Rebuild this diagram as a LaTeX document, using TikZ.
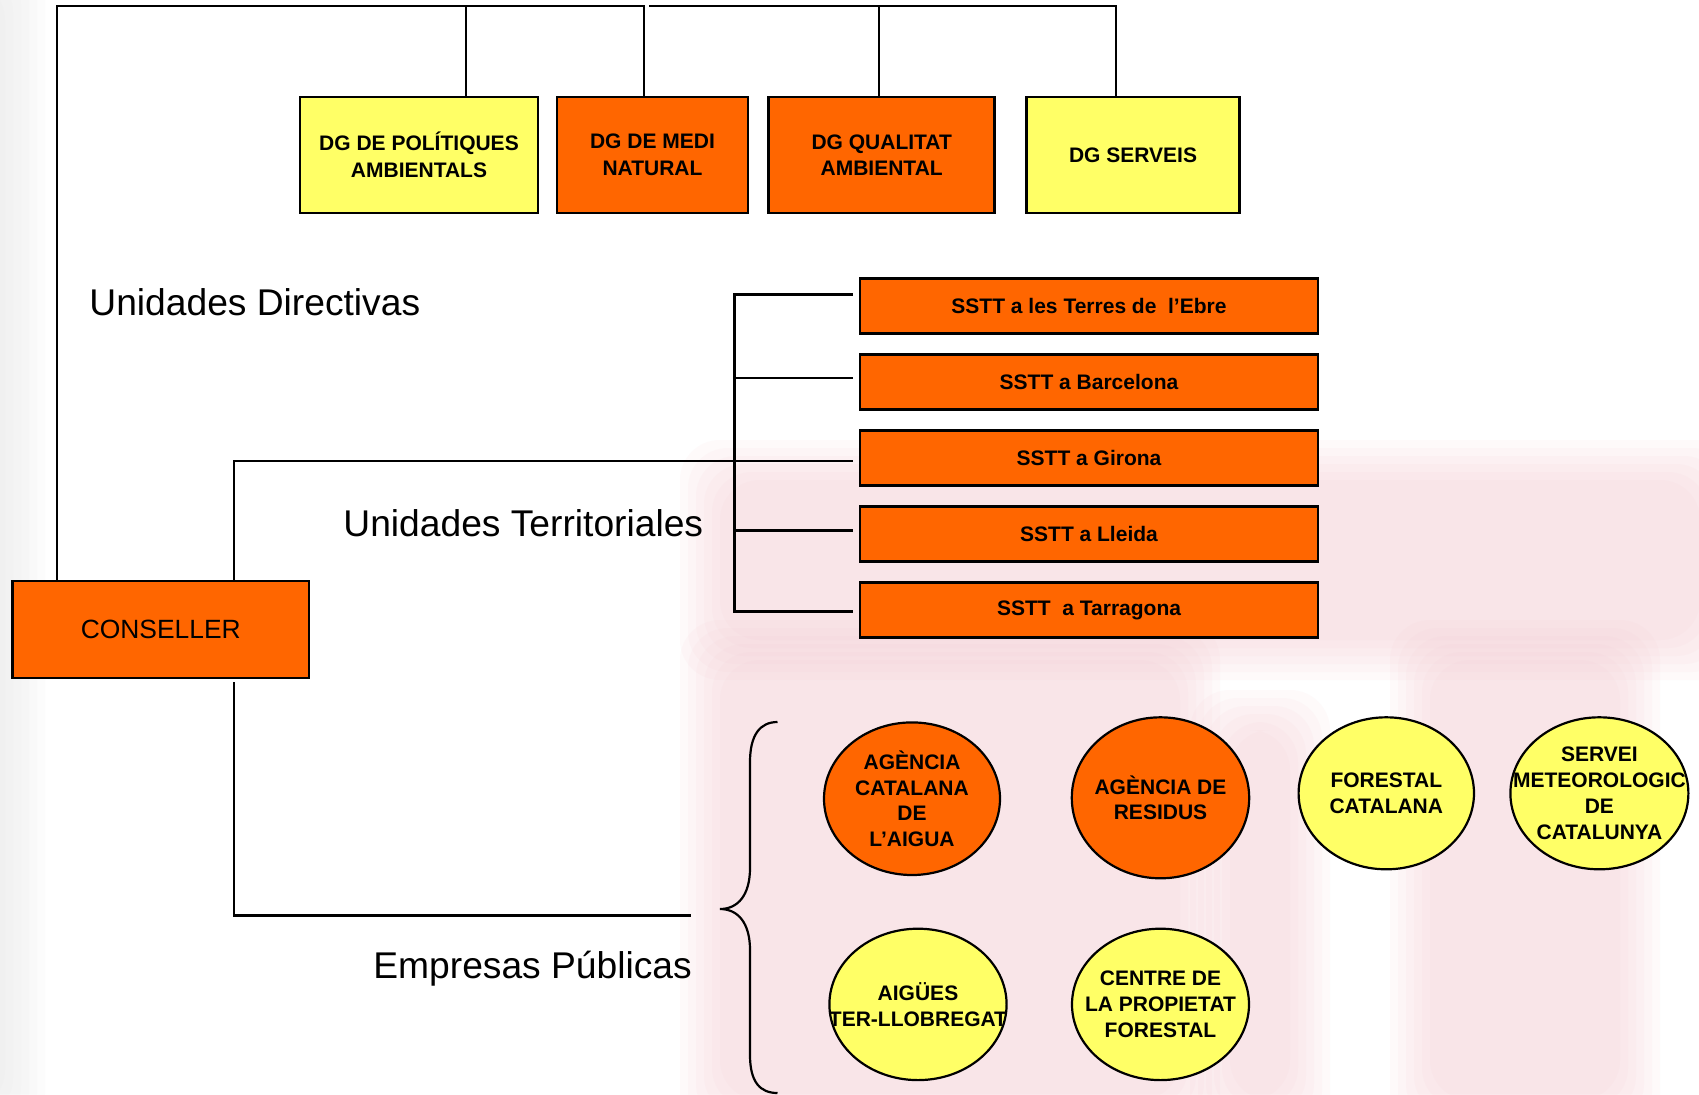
\documentclass[tikz,border=0pt]{standalone}
\usepackage{fontspec}
\setmainfont{Liberation Sans}
\usetikzlibrary{shapes.geometric,calc}
\definecolor{org}{HTML}{FF6600}
\definecolor{ylw}{HTML}{FFFF66}
\definecolor{wmpink}{RGB}{246,200,208}
\definecolor{wmgrey}{RGB}{225,225,225}
\newcommand\wmblob[5]{%
  \foreach \dd in {0,8,16,24,32,40}{%
    \fill[#5,opacity=0.09,rounded corners=20pt] ($(#1,#2)+(\dd,\dd)$) rectangle ($(#3,#4)-(\dd,\dd)$);}}
\begin{document}
\begin{tikzpicture}[x=0.5pt,y=-0.5pt,
  box/.style={draw=black,line width=1.3pt,rectangle,inner sep=0pt,align=center,
    font=\fontsize{10.5}{13.3}\selectfont\bfseries},
  obox/.style={box,fill=org},
  ybox/.style={box,fill=ylw},
  oval/.style={ellipse,draw=black,line width=1.1pt,inner sep=0pt},
  otext/.style={align=center,inner sep=0pt,font=\fontsize{10.5}{12.9}\selectfont\bfseries},
  conn/.style={line width=1.4pt},
  heading/.style={anchor=base west,inner sep=0pt,font=\fontsize{18.6}{21}\selectfont}]

\useasboundingbox (0,0) rectangle (1699,1094);
\fill[white] (0,0) rectangle (1699,1094);

% faint watermark background
\wmblob{680}{440}{1740}{680}{wmpink}
\wmblob{680}{620}{1220}{1140}{wmpink}
\wmblob{1390}{620}{1660}{1140}{wmpink}
\wmblob{1190}{690}{1330}{1140}{wmpink}
\wmblob{-60}{-60}{45}{1150}{wmgrey}

% DG boxes
\node[ybox,minimum width=119pt,minimum height=58pt] (pol) at (419,155) {DG DE POLÍTIQUES\\AMBIENTALS};
\node[obox,minimum width=95.5pt,minimum height=58pt] (medi) at (652.5,155) {DG DE MEDI\\NATURAL};
\node[obox,minimum width=113pt,minimum height=58pt] (qual) at (881.7,155) {DG QUALITAT\\AMBIENTAL};
\node[ybox,minimum width=106.75pt,minimum height=58pt] (serv) at (1133,155) {DG SERVEIS};

% Conseller
\node[obox,font=\fontsize{13.2}{15}\selectfont,minimum width=148.25pt,minimum height=48.5pt] (cons) at (160.75,629.5) {CONSELLER};

% SSTT boxes
\node[obox,minimum width=229pt,minimum height=27.5pt] (s1) at (1089,305.8) {SSTT a les Terres de~~l’Ebre};
\node[obox,minimum width=229pt,minimum height=27.5pt] (s2) at (1089,381.8) {SSTT a Barcelona};
\node[obox,minimum width=229pt,minimum height=27.5pt] (s3) at (1089,458.2) {SSTT a Girona};
\node[obox,minimum width=229pt,minimum height=27.5pt] (s4) at (1089,534.2) {SSTT a Lleida};
\node[obox,minimum width=229pt,minimum height=27.5pt] (s5) at (1089,610.2) {SSTT~~a Tarragona};

% Headings
\node[heading] (hd) at (89,315) {Unidades Directivas};
\node[heading] (ht) at (343,536.7) {Unidades Territoriales};
\node[heading] (he) at (373,978) {Empresas Públicas};

% Ellipses
\node[oval,fill=org,minimum width=88pt,minimum height=76.3pt] (e1) at (912,798.7) {};
\node[oval,fill=org,minimum width=88.7pt,minimum height=80.5pt] (e2) at (1160.5,797.8) {};
\node[oval,fill=ylw,minimum width=87.7pt,minimum height=76pt] (e3) at (1386.3,793.3) {};
\node[oval,fill=ylw,minimum width=89pt,minimum height=76pt] (e4) at (1599.4,793.3) {};
\node[oval,fill=ylw,minimum width=88.6pt,minimum height=75.7pt] (e5) at (918,1004.4) {};
\node[oval,fill=ylw,minimum width=88.5pt,minimum height=75.7pt] (e6) at (1160.5,1004.4) {};
\node[otext] (t1) at (e1.center) {AGÈNCIA\\CATALANA\\DE\\L’AIGUA};
\node[otext] (t2) at (e2.center) {AGÈNCIA DE\\RESIDUS};
\node[otext] (t3) at (e3.center) {FORESTAL\\CATALANA};
\node[otext] (t4) at (e4.center) {SERVEI\\METEOROLOGIC\\DE\\CATALUNYA};
\node[otext] (t5) at (e5.center) {AIGÜES\\TER-LLOBREGAT};
\node[otext] (t6) at (e6.center) {CENTRE DE\\LA PROPIETAT\\FORESTAL};

% Top connectors
\coordinate (ta) at (57,6);
\coordinate (tb) at (644,6);
\coordinate (tc) at (466,6);
\coordinate (td) at (649,6);
\coordinate (te) at (1116,6);
\coordinate (tf) at (879,6);
\draw[conn] (cons.north -| ta) -- (ta) -- (tb) -- (medi.north -| tb);
\draw[conn] (tc) -- (pol.north -| tc);
\draw[conn] (td) -- (te) -- (serv.north -| te);
\draw[conn] (tf) -- (qual.north -| tf);

% Territorial connectors
\coordinate (mx) at (234,0);
\coordinate (b1) at ($(s1.west)+(-6,-11.1)$);
\coordinate (b2) at ($(s2.west)+(-6,-3.8)$);
\coordinate (b3) at ($(s3.west)+(-6,2.8)$);
\coordinate (b4) at ($(s4.west)+(-6,-3.5)$);
\coordinate (b5) at ($(s5.west)+(-6,1.5)$);
\coordinate (v1) at ($(s1.west)+(-124,-11.1)$);
\coordinate (v2) at ($(s2.west)+(-124,-3.8)$);
\coordinate (v4) at ($(s4.west)+(-124,-3.5)$);
\coordinate (v5) at ($(s5.west)+(-124,1.5)$);
\draw[conn] (b1) -- (v1) -- (v5) -- (b5);
\draw[conn] (v2) -- (b2);
\draw[conn] (v4) -- (b4);
\draw[conn] (cons.north -| mx) |- (b3);

% Empresas connector
\coordinate (ep) at (691,915.3);
\draw[conn] ([yshift=-1.5pt]cons.south -| mx) |- (ep);

% Brace
\draw[line width=1.1pt] (777.5,722) .. controls (760,722) and (750,735) .. (750,762)
  -- (750,868) .. controls (750,895) and (738,909) .. (720,909)
  .. controls (738,909) and (750,923) .. (750,950)
  -- (750,1055) .. controls (750,1082) and (760,1093) .. (777.5,1093);
\end{tikzpicture}
\end{document}
